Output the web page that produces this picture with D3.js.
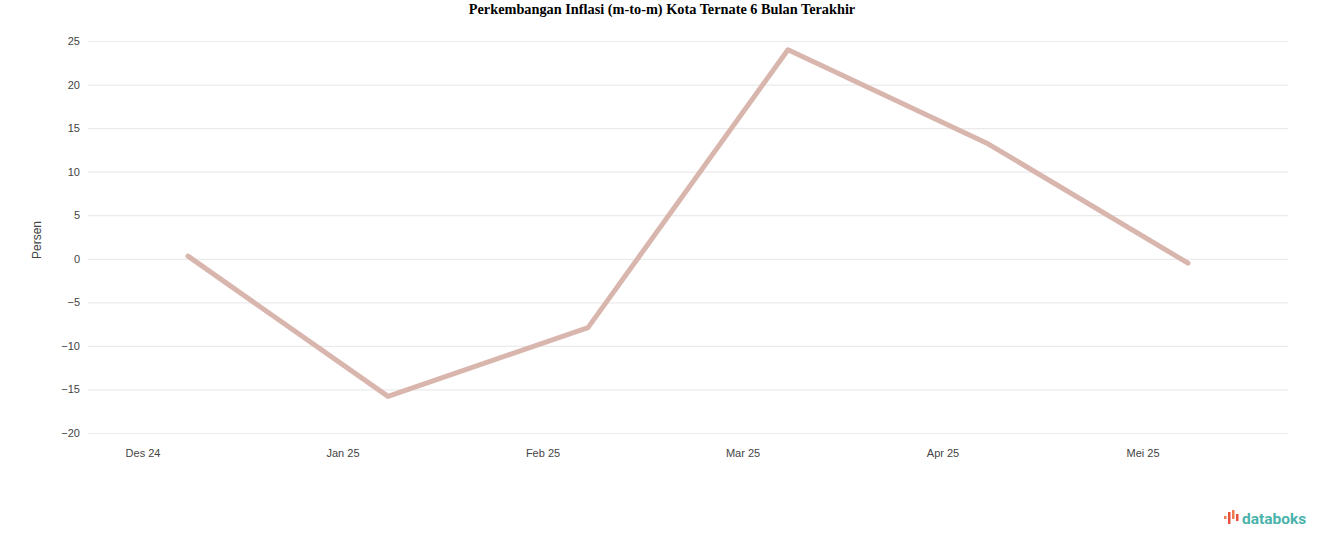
<!DOCTYPE html>
<html><head><meta charset="utf-8">
<script src="https://cdn.jsdelivr.net/npm/d3@7/dist/d3.min.js"></script>
<style>body{margin:0;background:#fff;}svg{display:block;}</style>
</head><body>
<svg id="c" width="1324" height="547"></svg>
<script>
const title = "Perkembangan Inflasi (m-to-m) Kota Ternate 6 Bulan Terakhir";
const categories = ["Des 24","Jan 25","Feb 25","Mar 25","Apr 25","Mei 25"];
const values = [0.3, -15.8, -7.9, 24.0, 13.2, -0.5];
const yTicks = [25,20,15,10,5,0,-5,-10,-15,-20];
const yLabel = "Persen";

(function(){
const svg = d3.select("#c");
const W = 1324, H = 547;
const pL = 88, pR = 1288, pT = 41, pB = 433;

const x = d3.scaleBand().domain(categories).range([pL, pR]);
const y = d3.scaleLinear().domain([-20, 25]).range([pB, pT]);

svg.append("rect").attr("width", W).attr("height", H).attr("fill", "#fff");

svg.append("text").attr("x", 662).attr("y", 14).attr("text-anchor", "middle")
  .attr("font-family", "Liberation Serif, Times New Roman, serif").attr("font-weight", "bold")
  .attr("font-size", 14.3).attr("fill", "#000").text(title);

// grid
const gy = svg.append("g").attr("transform", `translate(${pL},0)`)
  .call(d3.axisLeft(y).tickValues(yTicks).tickSize(-(pR-pL)).tickFormat(d3.format("d")));
gy.select(".domain").remove();
gy.selectAll(".tick line").attr("stroke", "#ebebeb").attr("stroke-width", 1.2);
gy.selectAll(".tick text").attr("x", -8).attr("fill", "#444")
  .attr("font-family", "Liberation Sans, Arial, sans-serif").attr("font-size", 11);

// x axis
const gx = svg.append("g").attr("transform", `translate(0,${pB})`)
  .call(d3.axisBottom(x).tickSize(0).tickPadding(16));
gx.select(".domain").remove();
gx.selectAll(".tick text").attr("dx", -45).attr("fill", "#444")
  .attr("font-family", "Liberation Sans, Arial, sans-serif").attr("font-size", 11);

svg.append("text").attr("transform", "translate(41,240) rotate(-90)").attr("text-anchor", "middle")
  .attr("font-family", "Liberation Sans, Arial, sans-serif").attr("font-size", 12).attr("fill", "#444")
  .text(yLabel);

const line = d3.line().x((d,i) => x(categories[i]) + x.bandwidth()/2).y(d => y(d));
svg.append("path").datum(values).attr("d", line).attr("fill", "none")
  .attr("stroke", "#d9b6ad").attr("stroke-width", 5).attr("stroke-linejoin", "round").attr("stroke-linecap", "round");

// logo
const logo = svg.append("g").attr("transform", "translate(1224,512)");
const bars = [[0,4,3,"#f07b4f"],[4,0,12,"#e8513e"],[8,-2,9,"#f07b4f"],[12,2,7,"#e8513e"]];
logo.selectAll("rect").data(bars).enter().append("rect")
  .attr("x", d => d[0]).attr("y", d => d[1]).attr("width", 2.5).attr("height", d => d[2]).attr("fill", d => d[3]);
logo.append("text").attr("x", 18).attr("y", 12).attr("font-family", "Roboto, Liberation Sans, sans-serif")
  .attr("font-weight", "bold").attr("font-size", 15.5).attr("fill", "#4ab3ab").text("databoks");
})();
</script>
</body></html>
